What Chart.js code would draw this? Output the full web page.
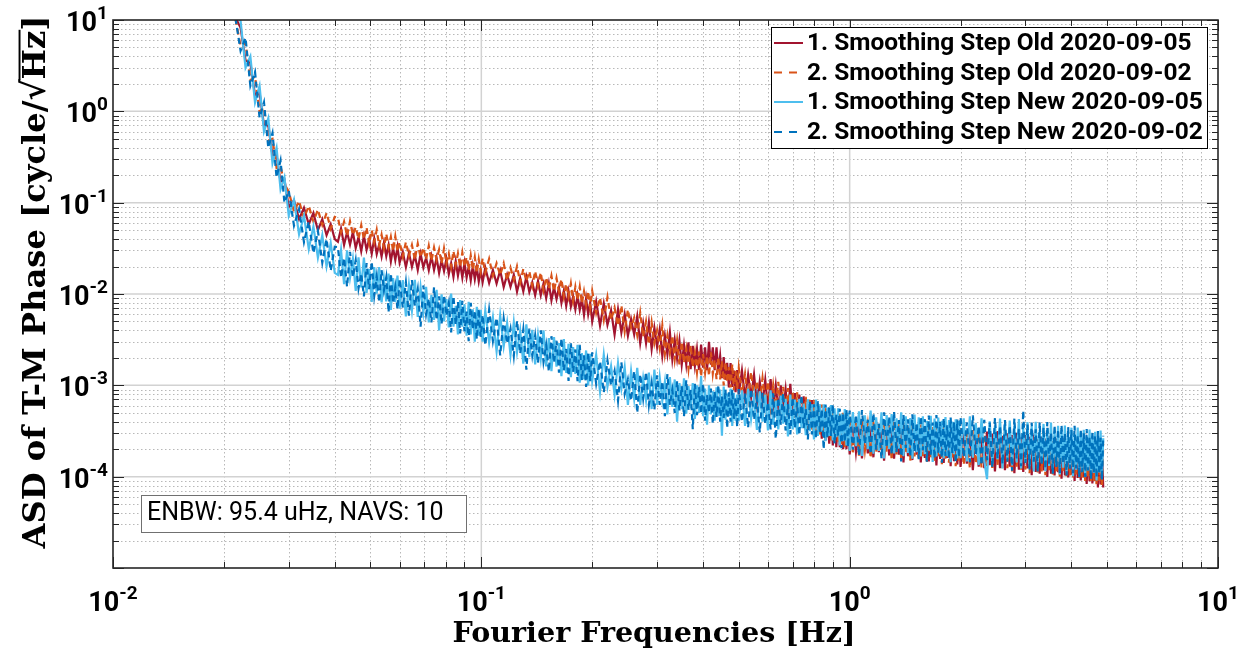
<!DOCTYPE html>
<html><head><meta charset="utf-8">
<script src="https://cdn.jsdelivr.net/npm/chart.js@4.4.1/dist/chart.umd.min.js"></script>
<style>html,body{margin:0;padding:0;background:#fff;overflow:hidden}canvas{display:block}</style>
</head><body>
<canvas id="c" width="1247" height="655"></canvas>
<script>
// ---------------- data ----------------
const freqHz = [
 0.0215,0.0222,0.0229,0.0236,0.0243,0.025,0.0257,0.0264,0.0271,0.0278,0.0285,0.0292,
 0.030,0.031,0.032,0.033,0.034,0.035,0.036,0.037,0.038,0.039,0.040,
 0.0408,0.0416,0.0424,0.0432,0.0440,0.0448,0.0456,0.0464,0.0472,0.0480,0.0488,0.0496,0.0504,0.0512,0.0520,0.0528,0.0536,0.0544,0.0552,0.0560,0.0568,0.0576,0.0584,0.0592,0.0600,
 0.0612,0.0624,0.0636,0.0648,0.0660,0.0672,0.0684,0.0696,0.0708,0.0720,0.0732,0.0744,0.0756,0.0768,0.0780,0.0792,0.0804,0.0816,0.0828,0.0840,0.0852,0.0864,0.0876,0.0888,0.0900,0.0912,0.0924,0.0936,0.0948,0.0960,0.0972,0.0984,0.0996,0.1008,
 0.1025,0.1050,0.1075,0.1100,0.1125,0.1150,0.1175,0.1200,0.1225,0.1250,0.1275,0.1300,0.1325,0.1350,0.1375,0.1400,0.1425,0.1450,0.1475,0.1500,0.1525,0.1550,0.1575,0.1600,0.1625,0.1650,0.1675,0.1700,0.1725,0.1750,0.1775,0.1800,0.1825,0.1850,0.1875,0.1900,0.1925,0.1950,0.1975,
 0.200,0.205,0.210,0.215,0.220,0.225,0.230,0.235,0.240,0.245,0.250,0.255,0.260,0.265,0.270,0.275,0.280,0.285,0.290,0.295,
 0.300,0.305,0.310,0.315,0.320,0.325,0.330,0.335,0.340,0.345,0.350,0.355,0.360,0.365,0.370,0.375,0.380,0.385,0.390,0.395,
 0.400,0.405,0.410,0.415,0.420,0.425,0.430,0.435,0.440,0.445,0.450,0.455,0.460,0.465,0.470,0.475,0.480,0.485,0.490,0.495,
 0.50,0.51,0.52,0.53,0.54,0.55,0.56,0.57,0.58,0.59,0.60,0.61,0.62,0.63,0.64,0.65,0.66,0.67,0.68,0.69,
 0.70,0.71,0.72,0.73,0.74,0.75,0.76,0.77,0.78,0.79,0.80,0.81,0.82,0.83,0.84,0.85,0.86,0.87,0.88,0.89,
 0.90,0.91,0.92,0.93,0.94,0.95,0.96,0.97,0.98,0.99,
 1.00,1.02,1.04,1.06,1.08,1.10,1.12,1.14,1.16,1.18,1.20,1.22,1.24,1.26,1.28,1.30,1.32,1.34,1.36,1.38,
 1.40,1.42,1.44,1.46,1.48,1.50,1.52,1.54,1.56,1.58,1.60,1.62,1.64,1.66,1.68,1.70,1.72,1.74,1.76,1.78,
 1.80,1.82,1.84,1.86,1.88,1.90,1.92,1.94,1.96,1.98,
 2.00,2.04,2.08,2.12,2.16,2.20,2.24,2.28,2.32,2.36,2.40,2.44,2.48,2.52,2.56,2.60,2.64,2.68,2.72,2.76,
 2.80,2.84,2.88,2.92,2.96,3.00,3.04,3.08,3.12,3.16,3.20,3.24,3.28,3.32,3.36,3.40,3.44,3.48,3.52,3.56,
 3.60,3.64,3.68,3.72,3.76,3.80,3.84,3.88,3.92,3.96,4.00,4.04,4.08,4.12,4.16,4.20,4.24,4.28,4.32,4.36,
 4.40,4.44,4.48,4.52,4.56,4.60,4.64,4.68,4.72,4.76,4.80,4.84,4.88
];
// 1. Smoothing Step Old 2020-09-05
const oldSep05 = [
 10.7,8.2,3.6,3.4,1.5,1.6,0.70,0.70,0.33,0.33,0.17,0.18,
 0.090,0.106,0.066,0.088,0.058,0.077,0.050,0.066,0.044,0.058,0.040,
 37.4e-3,52.0e-3,34.5e-3,47.6e-3,34.8e-3,47.8e-3,31.9e-3,42.1e-3,29.4e-3,43.3e-3,30.4e-3,39.8e-3,27.7e-3,40.3e-3,27.4e-3,34.8e-3,25.7e-3,36.4e-3,26.0e-3,34.2e-3,22.7e-3,32.0e-3,23.5e-3,32.7e-3,22.0e-3,
 28.9e-3,19.7e-3,28.3e-3,19.8e-3,26.6e-3,18.3e-3,27.6e-3,19.5e-3,24.9e-3,18.2e-3,25.9e-3,18.3e-3,24.8e-3,17.0e-3,23.5e-3,17.8e-3,24.3e-3,16.5e-3,21.7e-3,15.4e-3,22.8e-3,15.9e-3,21.5e-3,15.1e-3,21.8e-3,15.1e-3,20.0e-3,14.1e-3,20.3e-3,14.5e-3,19.5e-3,13.7e-3,18.0e-3,13.5e-3,
 19.4e-3,13.2e-3,18.3e-3,13.0e-3,18.1e-3,11.9e-3,16.3e-3,12.0e-3,16.2e-3,10.6e-3,15.0e-3,10.7e-3,15.4e-3,10.5e-3,13.4e-3,9.7e-3,13.9e-3,9.7e-3,13.0e-3,9.0e-3,13.1e-3,8.5e-3,11.8e-3,8.8e-3,11.8e-3,8.0e-3,10.9e-3,7.4e-3,10.7e-3,7.3e-3,9.4e-3,6.8e-3,9.6e-3,6.7e-3,8.8e-3,5.9e-3,8.9e-3,6.0e-3,8.05e-3,
 5.0e-3,8.3e-3,4.5e-3,7.9e-3,4.6e-3,6.6e-3,3.6e-3,6.8e-3,3.8e-3,6.0e-3,3.5e-3,5.3e-3,3.6e-3,5.7e-3,2.9e-3,4.8e-3,2.9e-3,4.9e-3,2.5e-3,4.25e-3,
 2.64e-3,4.1e-3,2.1e-3,3.5e-3,2.2e-3,3.8e-3,1.92e-3,3.15e-3,1.96e-3,3.1e-3,1.68e-3,2.75e-3,1.7e-3,2.96e-3,1.5e-3,2.7e-3,1.63e-3,2.5e-3,1.48e-3,2.8e-3,
 1.56e-3,2.6e-3,1.47e-3,3.0e-3,1.68e-3,2.6e-3,1.47e-3,2.6e-3,1.44e-3,2.1e-3,1.2e-3,2.04e-3,1.15e-3,1.76e-3,0.95e-3,1.75e-3,0.96e-3,1.45e-3,0.84e-3,1.47e-3,
 0.80e-3,1.45e-3,0.73e-3,1.3e-3,0.74e-3,1.31e-3,0.63e-3,1.1e-3,0.64e-3,1.14e-3,0.56e-3,1.17e-3,0.57e-3,1.0e-3,0.53e-3,1.0e-3,0.53e-3,0.90e-3,0.455e-3,1.04e-3,
 0.44e-3,0.82e-3,0.38e-3,0.79e-3,0.39e-3,0.76e-3,0.32e-3,0.69e-3,0.32e-3,0.69e-3,0.28e-3,0.63e-3,0.29e-3,0.61e-3,0.26e-3,0.56e-3,0.25e-3,0.55e-3,0.23e-3,0.54e-3,
 0.22e-3,0.485e-3,0.21e-3,0.49e-3,0.21e-3,0.46e-3,0.20e-3,0.465e-3,0.20e-3,0.44e-3,
 0.175e-3,0.41e-3,0.186e-3,0.393e-3,0.158e-3,0.419e-3,0.18e-3,0.373e-3,0.163e-3,0.398e-3,0.186e-3,0.381e-3,0.15e-3,0.405e-3,0.171e-3,0.36e-3,0.157e-3,0.385e-3,0.174e-3,0.367e-3,
 0.143e-3,0.392e-3,0.168e-3,0.347e-3,0.152e-3,0.371e-3,0.174e-3,0.355e-3,0.143e-3,0.377e-3,0.16e-3,0.335e-3,0.147e-3,0.357e-3,0.162e-3,0.342e-3,0.133e-3,0.364e-3,0.156e-3,0.322e-3,
 0.141e-3,0.344e-3,0.16e-3,0.328e-3,0.13e-3,0.349e-3,0.148e-3,0.311e-3,0.136e-3,0.33e-3,
 0.128e-3,0.323e-3,0.139e-3,0.309e-3,0.118e-3,0.328e-3,0.129e-3,0.292e-3,0.124e-3,0.311e-3,0.134e-3,0.297e-3,0.114e-3,0.316e-3,0.124e-3,0.28e-3,0.118e-3,0.299e-3,0.129e-3,0.285e-3,
 0.109e-3,0.303e-3,0.119e-3,0.269e-3,0.113e-3,0.286e-3,0.123e-3,0.273e-3,0.104e-3,0.29e-3,0.113e-3,0.257e-3,0.108e-3,0.274e-3,0.117e-3,0.261e-3,0.099e-3,0.277e-3,0.108e-3,0.246e-3,
 0.103e-3,0.262e-3,0.112e-3,0.249e-3,0.095e-3,0.265e-3,0.103e-3,0.234e-3,0.098e-3,0.249e-3,0.105e-3,0.237e-3,0.09e-3,0.252e-3,0.097e-3,0.223e-3,0.091e-3,0.237e-3,0.098e-3,0.226e-3,
 0.083e-3,0.239e-3,0.089e-3,0.212e-3,0.084e-3,0.225e-3,0.09e-3,0.214e-3,0.076e-3,0.226e-3,0.082e-3,0.20e-3,0.076e-3
];
// 2. Smoothing Step Old 2020-09-02
const oldSep02 = [
 10.3,5.2,5.6,2.2,2.4,1.0,1.1,0.48,0.50,0.24,0.25,0.16,
 0.132,0.080,0.104,0.068,0.092,0.062,0.084,0.057,0.077,0.052,0.070,
 68.4e-3,47.2e-3,62.1e-3,43.1e-3,62.6e-3,44.2e-3,54.1e-3,40.0e-3,56.6e-3,39.8e-3,53.5e-3,35.4e-3,49.8e-3,36.8e-3,50.4e-3,34.0e-3,44.5e-3,31.9e-3,45.6e-3,32.7e-3,42.2e-3,29.6e-3,42.7e-3,29.2e-3,37.0e-3,
 25.7e-3,37.0e-3,26.1e-3,34.4e-3,23.7e-3,35.7e-3,25.2e-3,32.1e-3,23.9e-3,33.7e-3,23.0e-3,32.2e-3,23.7e-3,30.6e-3,21.5e-3,31.6e-3,21.7e-3,27.7e-3,19.9e-3,29.5e-3,20.9e-3,27.8e-3,19.7e-3,28.4e-3,20.0e-3,25.3e-3,18.3e-3,26.4e-3,18.4e-3,25.3e-3,17.0e-3,24.0e-3,17.8e-3,24.5e-3,
 17.1e-3,24.3e-3,15.9e-3,21.7e-3,16.1e-3,21.7e-3,14.2e-3,19.4e-3,14.4e-3,20.1e-3,13.4e-3,18.8e-3,13.8e-3,17.7e-3,12.3e-3,17.8e-3,12.3e-3,17.2e-3,11.0e-3,15.2e-3,11.5e-3,15.8e-3,10.7e-3,14.9e-3,10.7e-3,14.5e-3,9.4e-3,12.9e-3,9.35e-3,13.0e-3,8.4e-3,12.0e-3,8.6e-3,12.0e-3,7.9e-3,10.7e-3,7.7e-3,10.7e-3,7.1e-3,
 10.8e-3,6.2e-3,9.1e-3,5.2e-3,9.2e-3,5.2e-3,7.1e-3,4.5e-3,7.5e-3,3.9e-3,6.75e-3,4.3e-3,5.5e-3,3.55e-3,6.2e-3,3.4e-3,5.0e-3,2.8e-3,4.9e-3,2.9e-3,
 4.0e-3,2.55e-3,4.5e-3,2.2e-3,3.5e-3,2.24e-3,3.5e-3,1.92e-3,3.1e-3,1.7e-3,3.0e-3,1.76e-3,2.5e-3,1.52e-3,2.75e-3,1.58e-3,2.28e-3,1.39e-3,2.34e-3,1.25e-3,
 2.2e-3,1.37e-3,2.1e-3,1.27e-3,2.3e-3,1.34e-3,1.9e-3,1.17e-3,2.05e-3,1.16e-3,1.85e-3,1.0e-3,1.8e-3,1.08e-3,1.58e-3,0.95e-3,1.7e-3,0.89e-3,1.44e-3,0.91e-3,
 1.55e-3,0.82e-3,1.34e-3,0.72e-3,1.4e-3,0.75e-3,1.12e-3,0.655e-3,1.2e-3,0.66e-3,1.1e-3,0.58e-3,1.01e-3,0.59e-3,1.09e-3,0.55e-3,0.96e-3,0.49e-3,0.93e-3,0.50e-3,
 0.845e-3,0.44e-3,0.84e-3,0.39e-3,0.76e-3,0.39e-3,0.75e-3,0.33e-3,0.69e-3,0.33e-3,0.69e-3,0.30e-3,0.62e-3,0.29e-3,0.615e-3,0.27e-3,0.565e-3,0.27e-3,0.555e-3,0.25e-3,
 0.54e-3,0.235e-3,0.49e-3,0.235e-3,0.495e-3,0.22e-3,0.50e-3,0.21e-3,0.48e-3,0.215e-3,
 0.435e-3,0.185e-3,0.387e-3,0.17e-3,0.413e-3,0.195e-3,0.366e-3,0.16e-3,0.42e-3,0.185e-3,0.389e-3,0.17e-3,0.40e-3,0.188e-3,0.368e-3,0.152e-3,0.407e-3,0.175e-3,0.375e-3,0.158e-3,
 0.386e-3,0.186e-3,0.356e-3,0.15e-3,0.393e-3,0.167e-3,0.363e-3,0.153e-3,0.372e-3,0.168e-3,0.343e-3,0.14e-3,0.38e-3,0.163e-3,0.35e-3,0.148e-3,0.36e-3,0.168e-3,0.33e-3,0.137e-3,
 0.365e-3,0.155e-3,0.338e-3,0.142e-3,0.346e-3,0.157e-3,0.319e-3,0.13e-3,0.351e-3,0.143e-3,
 0.341e-3,0.135e-3,0.303e-3,0.124e-3,0.323e-3,0.139e-3,0.308e-3,0.126e-3,0.328e-3,0.13e-3,0.291e-3,0.119e-3,0.311e-3,0.134e-3,0.296e-3,0.121e-3,0.315e-3,0.124e-3,0.28e-3,0.114e-3,
 0.298e-3,0.129e-3,0.285e-3,0.116e-3,0.302e-3,0.12e-3,0.268e-3,0.109e-3,0.286e-3,0.124e-3,0.273e-3,0.111e-3,0.29e-3,0.114e-3,0.257e-3,0.104e-3,0.274e-3,0.118e-3,0.261e-3,0.106e-3,
 0.277e-3,0.109e-3,0.245e-3,0.1e-3,0.261e-3,0.112e-3,0.249e-3,0.101e-3,0.264e-3,0.103e-3,0.234e-3,0.095e-3,0.249e-3,0.106e-3,0.237e-3,0.095e-3,0.251e-3,0.098e-3,0.223e-3,0.09e-3,
 0.237e-3,0.099e-3,0.225e-3,0.088e-3,0.239e-3,0.09e-3,0.211e-3,0.08e-3,0.224e-3,0.09e-3,0.213e-3,0.078e-3,0.226e-3
];
// 1. Smoothing Step New 2020-09-05
const newSep05 = [
 11,9.8,3.0,4.0,1.25,1.9,0.60,0.84,0.27,0.40,0.14,0.19,
 0.072,0.108,0.045,0.072,0.031,0.055,0.025,0.044,0.020,0.036,0.017,
 16.2e-3,30.1e-3,12.8e-3,30.0e-3,15.1e-3,24.3e-3,10.8e-3,25.2e-3,11.8e-3,25.1e-3,10.3e-3,18.9e-3,8.2e-3,19.7e-3,10.1e-3,19.7e-3,8.1e-3,14.6e-3,8.3e-3,16.7e-3,6.7e-3,14.9e-3,8.2e-3,15.9e-3,6.9e-3,
 14.2e-3,5.7e-3,12.6e-3,6.6e-3,14.3e-3,5.6e-3,11.9e-3,6.3e-3,12.0e-3,4.9e-3,9.8e-3,5.2e-3,11.1e-3,4.0e-3,9.9e-3,5.0e-3,8.8e-3,4.3e-3,10.1e-3,4.4e-3,7.4e-3,3.6e-3,8.6e-3,4.4e-3,7.7e-3,3.5e-3,8.2e-3,3.6e-3,6.8e-3,3.0e-3,7.25e-3,3.5e-3,6.7e-3,3.0e-3,
 6.6e-3,2.94e-3,5.55e-3,2.35e-3,5.8e-3,2.68e-3,4.83e-3,2.16e-3,4.9e-3,2.30e-3,3.99e-3,1.73e-3,4.64e-3,2.03e-3,4.05e-3,1.69e-3,3.56e-3,1.97e-3,4.01e-3,1.61e-3,3.29e-3,1.43e-3,3.38e-3,1.60e-3,2.90e-3,1.26e-3,3.20e-3,1.37e-3,2.84e-3,1.23e-3,2.62e-3,1.33e-3,2.78e-3,1.07e-3,2.25e-3,1.16e-3,2.41e-3,1.00e-3,2.21e-3,
 1.12e-3,2.15e-3,0.85e-3,2.16e-3,0.97e-3,1.62e-3,0.79e-3,1.76e-3,0.92e-3,1.58e-3,0.61e-3,1.43e-3,0.71e-3,1.55e-3,0.61e-3,1.19e-3,0.69e-3,1.38e-3,0.55e-3,1.49e-3,
 0.61e-3,1.22e-3,0.68e-3,1.09e-3,0.48e-3,1.23e-3,0.58e-3,1.16e-3,0.40e-3,1.06e-3,0.55e-3,1.19e-3,0.49e-3,0.98e-3,0.56e-3,1.06e-3,0.43e-3,1.0e-3,0.50e-3,1.26e-3,
 0.46e-3,0.92e-3,0.37e-3,1.0e-3,0.48e-3,0.86e-3,0.41e-3,0.95e-3,0.46e-3,0.90e-3,0.28e-3,0.97e-3,0.42e-3,0.81e-3,0.46e-3,0.92e-3,0.36e-3,0.83e-3,0.41e-3,0.79e-3,
 0.41e-3,0.88e-3,0.36e-3,0.92e-3,0.43e-3,0.76e-3,0.325e-3,0.86e-3,0.40e-3,0.79e-3,0.32e-3,0.88e-3,0.37e-3,0.68e-3,0.33e-3,0.77e-3,0.38e-3,0.71e-3,0.275e-3,0.79e-3,
 0.33e-3,0.70e-3,0.29e-3,0.71e-3,0.34e-3,0.63e-3,0.285e-3,0.705e-3,0.315e-3,0.62e-3,0.255e-3,0.70e-3,0.28e-3,0.62e-3,0.31e-3,0.62e-3,0.245e-3,0.57e-3,0.28e-3,0.61e-3,
 0.25e-3,0.56e-3,0.27e-3,0.56e-3,0.22e-3,0.49e-3,0.245e-3,0.55e-3,0.22e-3,0.50e-3,
 0.191e-3,0.51e-3,0.216e-3,0.52e-3,0.169e-3,0.47e-3,0.20e-3,0.53e-3,0.179e-3,0.447e-3,0.191e-3,0.507e-3,0.158e-3,0.471e-3,0.20e-3,0.484e-3,0.18e-3,0.434e-3,0.203e-3,0.507e-3,
 0.168e-3,0.458e-3,0.182e-3,0.438e-3,0.157e-3,0.48e-3,0.185e-3,0.447e-3,0.166e-3,0.457e-3,0.176e-3,0.41e-3,0.193e-3,0.464e-3,0.145e-3,0.432e-3,0.166e-3,0.443e-3,0.176e-3,0.41e-3,
 0.158e-3,0.45e-3,0.168e-3,0.417e-3,0.144e-3,0.40e-3,0.176e-3,0.425e-3,0.158e-3,0.407e-3,
 0.159e-3,0.435e-3,0.147e-3,0.457e-3,0.161e-3,0.388e-3,0.134e-3,0.436e-3,0.148e-3,0.094e-3,0.404e-3,0.138e-3,0.363e-3,0.154e-3,0.433e-3,0.123e-3,0.38e-3,0.156e-3,0.412e-3,0.133e-3,
 0.36e-3,0.143e-3,0.428e-3,0.123e-3,0.341e-3,0.145e-3,0.395e-3,0.13e-3,0.357e-3,0.114e-3,0.398e-3,0.136e-3,0.326e-3,0.143e-3,0.378e-3,0.115e-3,0.341e-3,0.131e-3,0.392e-3,0.121e-3,
 0.312e-3,0.133e-3,0.361e-3,0.106e-3,0.326e-3,0.125e-3,0.363e-3,0.111e-3,0.308e-3,0.126e-3,0.344e-3,0.101e-3,0.29e-3,0.119e-3,0.346e-3,0.11e-3,0.302e-3,0.116e-3,0.327e-3,0.0995e-3,
 0.276e-3,0.117e-3,0.328e-3,0.102e-3,0.278e-3,0.11e-3,0.31e-3,0.091e-3,0.279e-3,0.111e-3,0.32e-3,0.095e-3,0.263e-3
];
// 2. Smoothing Step New 2020-09-02
const newSep02 = [
 10.5,4.6,6.4,1.9,2.7,0.85,1.25,0.40,0.58,0.19,0.29,0.10,
 0.135,0.056,0.085,0.037,0.062,0.028,0.049,0.022,0.040,0.018,0.033,
 32.6e-3,15.1e-3,24.8e-3,12.0e-3,29.0e-3,15.3e-3,23.4e-3,11.5e-3,16.8e-3,9.4e-3,21.8e-3,11.3e-3,22.6e-3,9.6e-3,15.6e-3,8.1e-3,18.3e-3,11.0e-3,15.3e-3,6.3e-3,16.8e-3,7.9e-3,11.9e-3,6.8e-3,14.6e-3,
 7.1e-3,13.4e-3,5.8e-3,14.2e-3,7.4e-3,11.3e-3,4.4e-3,12.4e-3,6.0e-3,8.9e-3,4.9e-3,11.8e-3,5.2e-3,9.4e-3,4.7e-3,9.7e-3,5.8e-3,8.0e-3,3.8e-3,9.5e-3,4.6e-3,8.2e-3,3.7e-3,8.4e-3,3.9e-3,6.4e-3,3.05e-3,8.0e-3,4.1e-3,6.6e-3,3.2e-3,6.9e-3,3.4e-3,5.9e-3,
 2.74e-3,6.7e-3,3.07e-3,5.5e-3,2.13e-3,5.4e-3,2.86e-3,4.18e-3,2.10e-3,5.1e-3,2.23e-3,4.08e-3,1.48e-3,4.17e-3,2.14e-3,3.51e-3,1.75e-3,3.99e-3,1.81e-3,2.76e-3,1.42e-3,3.45e-3,1.77e-3,3.08e-3,1.38e-3,3.27e-3,1.45e-3,2.50e-3,1.12e-3,2.89e-3,1.40e-3,2.47e-3,1.11e-3,2.77e-3,1.14e-3,2.13e-3,0.96e-3,2.27e-3,1.11e-3,
 2.3e-3,1.04e-3,1.83e-3,0.84e-3,1.87e-3,1.0e-3,1.44e-3,0.68e-3,1.78e-3,0.81e-3,1.16e-3,0.68e-3,1.43e-3,0.50e-3,1.32e-3,0.72e-3,1.40e-3,0.61e-3,1.05e-3,0.54e-3,
 1.29e-3,0.61e-3,1.11e-3,0.46e-3,1.33e-3,0.61e-3,0.89e-3,0.50e-3,1.11e-3,0.53e-3,0.98e-3,0.46e-3,1.14e-3,0.54e-3,0.89e-3,0.33e-3,1.04e-3,0.47e-3,0.96e-3,0.49e-3,
 1.04e-3,0.41e-3,0.78e-3,0.50e-3,0.92e-3,0.38e-3,0.86e-3,0.45e-3,1.01e-3,0.40e-3,0.76e-3,0.44e-3,0.90e-3,0.34e-3,0.84e-3,0.40e-3,0.90e-3,0.43e-3,0.74e-3,0.35e-3,
 0.91e-3,0.40e-3,0.81e-3,0.345e-3,0.91e-3,0.42e-3,0.73e-3,0.305e-3,0.83e-3,0.38e-3,0.65e-3,0.33e-3,0.82e-3,0.26e-3,0.73e-3,0.37e-3,0.82e-3,0.32e-3,0.625e-3,0.29e-3,
 0.735e-3,0.34e-3,0.65e-3,0.285e-3,0.78e-3,0.34e-3,0.55e-3,0.255e-3,0.675e-3,0.29e-3,0.62e-3,0.26e-3,0.67e-3,0.31e-3,0.55e-3,0.20e-3,0.615e-3,0.27e-3,0.58e-3,0.28e-3,
 0.62e-3,0.23e-3,0.475e-3,0.28e-3,0.555e-3,0.205e-3,0.50e-3,0.24e-3,0.54e-3,0.21e-3,
 0.53e-3,0.197e-3,0.475e-3,0.17e-3,0.535e-3,0.227e-3,0.42e-3,0.177e-3,0.496e-3,0.198e-3,0.38e-3,0.158e-3,0.505e-3,0.207e-3,0.454e-3,0.175e-3,0.513e-3,0.186e-3,0.416e-3,0.147e-3,
 0.474e-3,0.207e-3,0.425e-3,0.166e-3,0.482e-3,0.186e-3,0.389e-3,0.155e-3,0.459e-3,0.195e-3,0.426e-3,0.146e-3,0.467e-3,0.174e-3,0.39e-3,0.158e-3,0.474e-3,0.183e-3,0.398e-3,0.142e-3,
 0.437e-3,0.169e-3,0.364e-3,0.156e-3,0.443e-3,0.182e-3,0.399e-3,0.142e-3,0.422e-3,0.163e-3,
 0.45e-3,0.164e-3,0.394e-3,0.144e-3,0.468e-3,0.176e-3,0.36e-3,0.133e-3,0.42e-3,0.152e-3,0.391e-3,0.126e-3,0.437e-3,0.159e-3,0.359e-3,0.138e-3,0.416e-3,0.146e-3,0.364e-3,0.116e-3,
 0.432e-3,0.158e-3,0.333e-3,0.13e-3,0.53e-3,0.14e-3,0.372e-3,0.12e-3,0.391e-3,0.146e-3,0.33e-3,0.113e-3,0.394e-3,0.134e-3,0.345e-3,0.122e-3,0.396e-3,0.136e-3,0.305e-3,0.108e-3,
 0.366e-3,0.128e-3,0.329e-3,0.11e-3,0.368e-3,0.138e-3,0.301e-3,0.103e-3,0.349e-3,0.122e-3,0.324e-3,0.109e-3,0.36e-3,0.123e-3,0.286e-3,0.098e-3,0.332e-3,0.112e-3,0.298e-3,0.0995e-3,
 0.333e-3,0.117e-3,0.272e-3,0.093e-3,0.315e-3,0.11e-3,0.283e-3,0.098e-3,0.315e-3,0.107e-3,0.266e-3,0.092e-3,0.28e-3
];
const seriesLabels = [
 '1. Smoothing Step Old 2020-09-05',
 '2. Smoothing Step Old 2020-09-02',
 '1. Smoothing Step New 2020-09-05',
 '2. Smoothing Step New 2020-09-02'
];
const xTickExponents = [-2, -1, 0, 1];
const yTickExponents = [1, 0, -1, -2, -3, -4];
const xDecadeExponents = [-2, -1, 0];
const yDecadeExponents = [-5, -4, -3, -2, -1, 0];
const xTitle = 'Fourier Frequencies [Hz]';
const yTitleParts = ['ASD of T-M Phase [cycle/', '\u221A', 'Hz', ']'];
const annotationText = 'ENBW: 95.4 uHz, NAVS: 10';

// ---------------- styles ----------------
const colors = ['#A2142F', '#D95319', '#4DBEEE', '#0072BD'];
const dashes = [[], [6, 4], [], [6, 4]];
const seriesData = [oldSep05, oldSep02, newSep05, newSep02];

function toPoints(arr) {
  const n = Math.min(arr.length, freqHz.length);
  const out = [];
  for (let i = 0; i < n; i++) out.push({ x: freqHz[i], y: arr[i] });
  return out;
}

const AXC = '#262626';
function fitSize(ctx, text, weight, family, target) {
  ctx.font = weight + ' 20px ' + family;
  return 20 * target / ctx.measureText(text).width;
}

const decorPlugin = {
  id: 'decor',
  beforeDatasetsDraw(chart) {
    const { ctx, chartArea: a, scales: { x, y } } = chart;
    ctx.save();
    ctx.beginPath(); ctx.rect(a.left, a.top, a.right - a.left, a.bottom - a.top); ctx.clip();
    ctx.setLineDash([1.5, 2.5]); ctx.strokeStyle = '#b8b8b8'; ctx.lineWidth = 1;
    ctx.beginPath();
    xDecadeExponents.forEach(e => { for (let m = 2; m <= 9; m++) {
      const px = Math.round(x.getPixelForValue(m * Math.pow(10, e))) + 0.5;
      ctx.moveTo(px, a.top); ctx.lineTo(px, a.bottom); } });
    yDecadeExponents.forEach(e => { for (let m = 2; m <= 9; m++) {
      const py = Math.round(y.getPixelForValue(m * Math.pow(10, e))) + 0.5;
      ctx.moveTo(a.left, py); ctx.lineTo(a.right, py); } });
    ctx.stroke();
    ctx.setLineDash([]); ctx.strokeStyle = '#d2d2d2'; ctx.lineWidth = 1.5;
    ctx.beginPath();
    xTickExponents.forEach(e => { const px = x.getPixelForValue(Math.pow(10, e));
      if (px > a.left + 1 && px < a.right - 1) { ctx.moveTo(px, a.top); ctx.lineTo(px, a.bottom); } });
    yTickExponents.concat([-5]).forEach(e => { const py = y.getPixelForValue(Math.pow(10, e));
      if (py > a.top + 1 && py < a.bottom - 1) { ctx.moveTo(a.left, py); ctx.lineTo(a.right, py); } });
    ctx.stroke();
    ctx.restore();
  },
  afterDatasetsDraw(chart) {
    const { ctx, chartArea: a, scales: { x, y } } = chart;
    ctx.save();
    ctx.strokeStyle = AXC; ctx.lineWidth = 1; ctx.setLineDash([]);
    ctx.beginPath();
    const xt = [], yt = [];
    xDecadeExponents.forEach(e => { for (let m = 1; m <= 9; m++) xt.push([m * Math.pow(10, e), m === 1]); });
    xt.push([10, true]);
    yDecadeExponents.forEach(e => { for (let m = 1; m <= 9; m++) yt.push([m * Math.pow(10, e), m === 1]); });
    yt.push([10, true]);
    xt.forEach(([v, maj]) => { const px = Math.round(x.getPixelForValue(v)) + 0.5; const L = maj ? 11 : 6;
      ctx.moveTo(px, a.bottom); ctx.lineTo(px, a.bottom - L); ctx.moveTo(px, a.top); ctx.lineTo(px, a.top + L); });
    yt.forEach(([v, maj]) => { const py = Math.round(y.getPixelForValue(v)) + 0.5; const L = maj ? 11 : 6;
      ctx.moveTo(a.left, py); ctx.lineTo(a.left + L, py); ctx.moveTo(a.right, py); ctx.lineTo(a.right - L, py); });
    ctx.stroke();
    ctx.lineWidth = 1.6; ctx.strokeStyle = AXC;
    ctx.strokeRect(a.left, a.top, a.right - a.left, a.bottom - a.top);

    ctx.fillStyle = '#000';
    function pow10(exp, px, base, align) {
      const b = '10', s = String(exp);
      ctx.font = 'bold 27px Roboto'; const wb = ctx.measureText(b).width;
      ctx.font = 'bold 19px Roboto'; const ws = ctx.measureText(s).width;
      const tot = wb + ws;
      const left = align === 'center' ? px - tot / 2 : px - tot;
      ctx.textAlign = 'left'; ctx.textBaseline = 'alphabetic';
      ctx.font = 'bold 27px Roboto'; ctx.fillText(b, left, base);
      ctx.font = 'bold 19px Roboto'; ctx.fillText(s, left + wb, base - 12);
    }
    xTickExponents.forEach(e => pow10(e, x.getPixelForValue(Math.pow(10, e)), 611, 'center'));
    yTickExponents.forEach(e => pow10(e, 108, y.getPixelForValue(Math.pow(10, e)) + 11, 'right'));

    let fs = fitSize(ctx, xTitle, 'bold', '"DejaVu Serif"', 403);
    ctx.font = 'bold ' + fs.toFixed(2) + 'px "DejaVu Serif"';
    ctx.textAlign = 'center'; ctx.textBaseline = 'alphabetic';
    ctx.fillText(xTitle, 654, 642);

    ctx.save();
    ctx.translate(33, 282); ctx.rotate(-Math.PI / 2);
    fs = fitSize(ctx, yTitleParts.join(''), 'bold', '"DejaVu Serif"', 533);
    ctx.font = 'bold ' + fs.toFixed(2) + 'px "DejaVu Serif"';
    const ws2 = yTitleParts.map(p => ctx.measureText(p).width);
    const total = ws2.reduce((s, v) => s + v, 0);
    let cx = -total / 2;
    const baseY = fs * 0.36;
    ctx.textAlign = 'left'; ctx.textBaseline = 'alphabetic';
    const radM = ctx.measureText(yTitleParts[1]);
    yTitleParts.forEach((p, i) => {
      ctx.fillText(p, cx, baseY);
      if (i === 2) {
        const topY = baseY - radM.actualBoundingBoxAscent + 1;
        ctx.fillRect(cx - 1, topY, ws2[2] + 2, Math.max(1.5, fs * 0.06));
      }
      cx += ws2[i];
    });
    ctx.restore();

    const lg = { l: 771, t: 27, r: 1207, b: 148 };
    ctx.fillStyle = '#fff'; ctx.fillRect(lg.l, lg.t, lg.r - lg.l, lg.b - lg.t);
    ctx.strokeStyle = '#000'; ctx.lineWidth = 1;
    ctx.strokeRect(lg.l + 0.5, lg.t + 0.5, lg.r - lg.l, lg.b - lg.t);
    const rows = [43, 72.5, 102, 132];
    const lfs = fitSize(ctx, seriesLabels[2], 'bold', 'Roboto', 396);
    seriesLabels.forEach((lab, i) => {
      const yy = rows[i];
      ctx.strokeStyle = colors[i]; ctx.lineWidth = 2; ctx.setLineDash(dashes[i].length ? [8, 7] : []);
      ctx.beginPath(); ctx.moveTo(774, yy); ctx.lineTo(803, yy); ctx.stroke();
      ctx.setLineDash([]);
      ctx.fillStyle = '#000'; ctx.font = 'bold ' + lfs.toFixed(2) + 'px Roboto';
      ctx.textAlign = 'left'; ctx.textBaseline = 'middle';
      ctx.fillText(lab, 807, yy + 1);
    });

    const an = { l: 141, t: 495, r: 466, b: 532 };
    ctx.fillStyle = '#fff'; ctx.fillRect(an.l, an.t, an.r - an.l, an.b - an.t);
    ctx.strokeStyle = '#707070'; ctx.lineWidth = 1;
    ctx.strokeRect(an.l + 0.5, an.t + 0.5, an.r - an.l, an.b - an.t);
    const afs = Math.min(25, fitSize(ctx, annotationText, 'normal', 'Roboto', 313));
    ctx.fillStyle = '#000'; ctx.font = afs.toFixed(2) + 'px Roboto'; ctx.textAlign = 'left'; ctx.textBaseline = 'middle';
    ctx.fillText(annotationText, 147, 514);
    ctx.restore();
  }
};

function build() {
  new Chart(document.getElementById('c'), {
    type: 'line',
    data: {
      datasets: seriesData.map((arr, i) => ({
        label: seriesLabels[i],
        data: toPoints(arr),
        borderColor: colors[i],
        backgroundColor: colors[i],
        borderWidth: 2.2,
        borderDash: dashes[i],
        pointRadius: 0,
        tension: 0,
        fill: false,
        order: 4 - i
      }))
    },
    options: {
      responsive: false,
      devicePixelRatio: 1,
      animation: false,
      events: [],
      layout: { padding: { left: 113, top: 20, right: 29, bottom: 87 } },
      plugins: { legend: { display: false }, tooltip: { enabled: false } },
      scales: {
        x: { type: 'logarithmic', min: 0.01, max: 10, display: false },
        y: { type: 'logarithmic', min: 1e-5, max: 10, display: false }
      }
    },
    plugins: [decorPlugin]
  });
}
if (document.fonts && document.fonts.load) {
  Promise.all([
    document.fonts.load('bold 25px Roboto'),
    document.fonts.load('22px Roboto'),
    document.fonts.load('bold 26px "DejaVu Serif"')
  ]).then(build, build);
} else build();
</script>
</body></html>
